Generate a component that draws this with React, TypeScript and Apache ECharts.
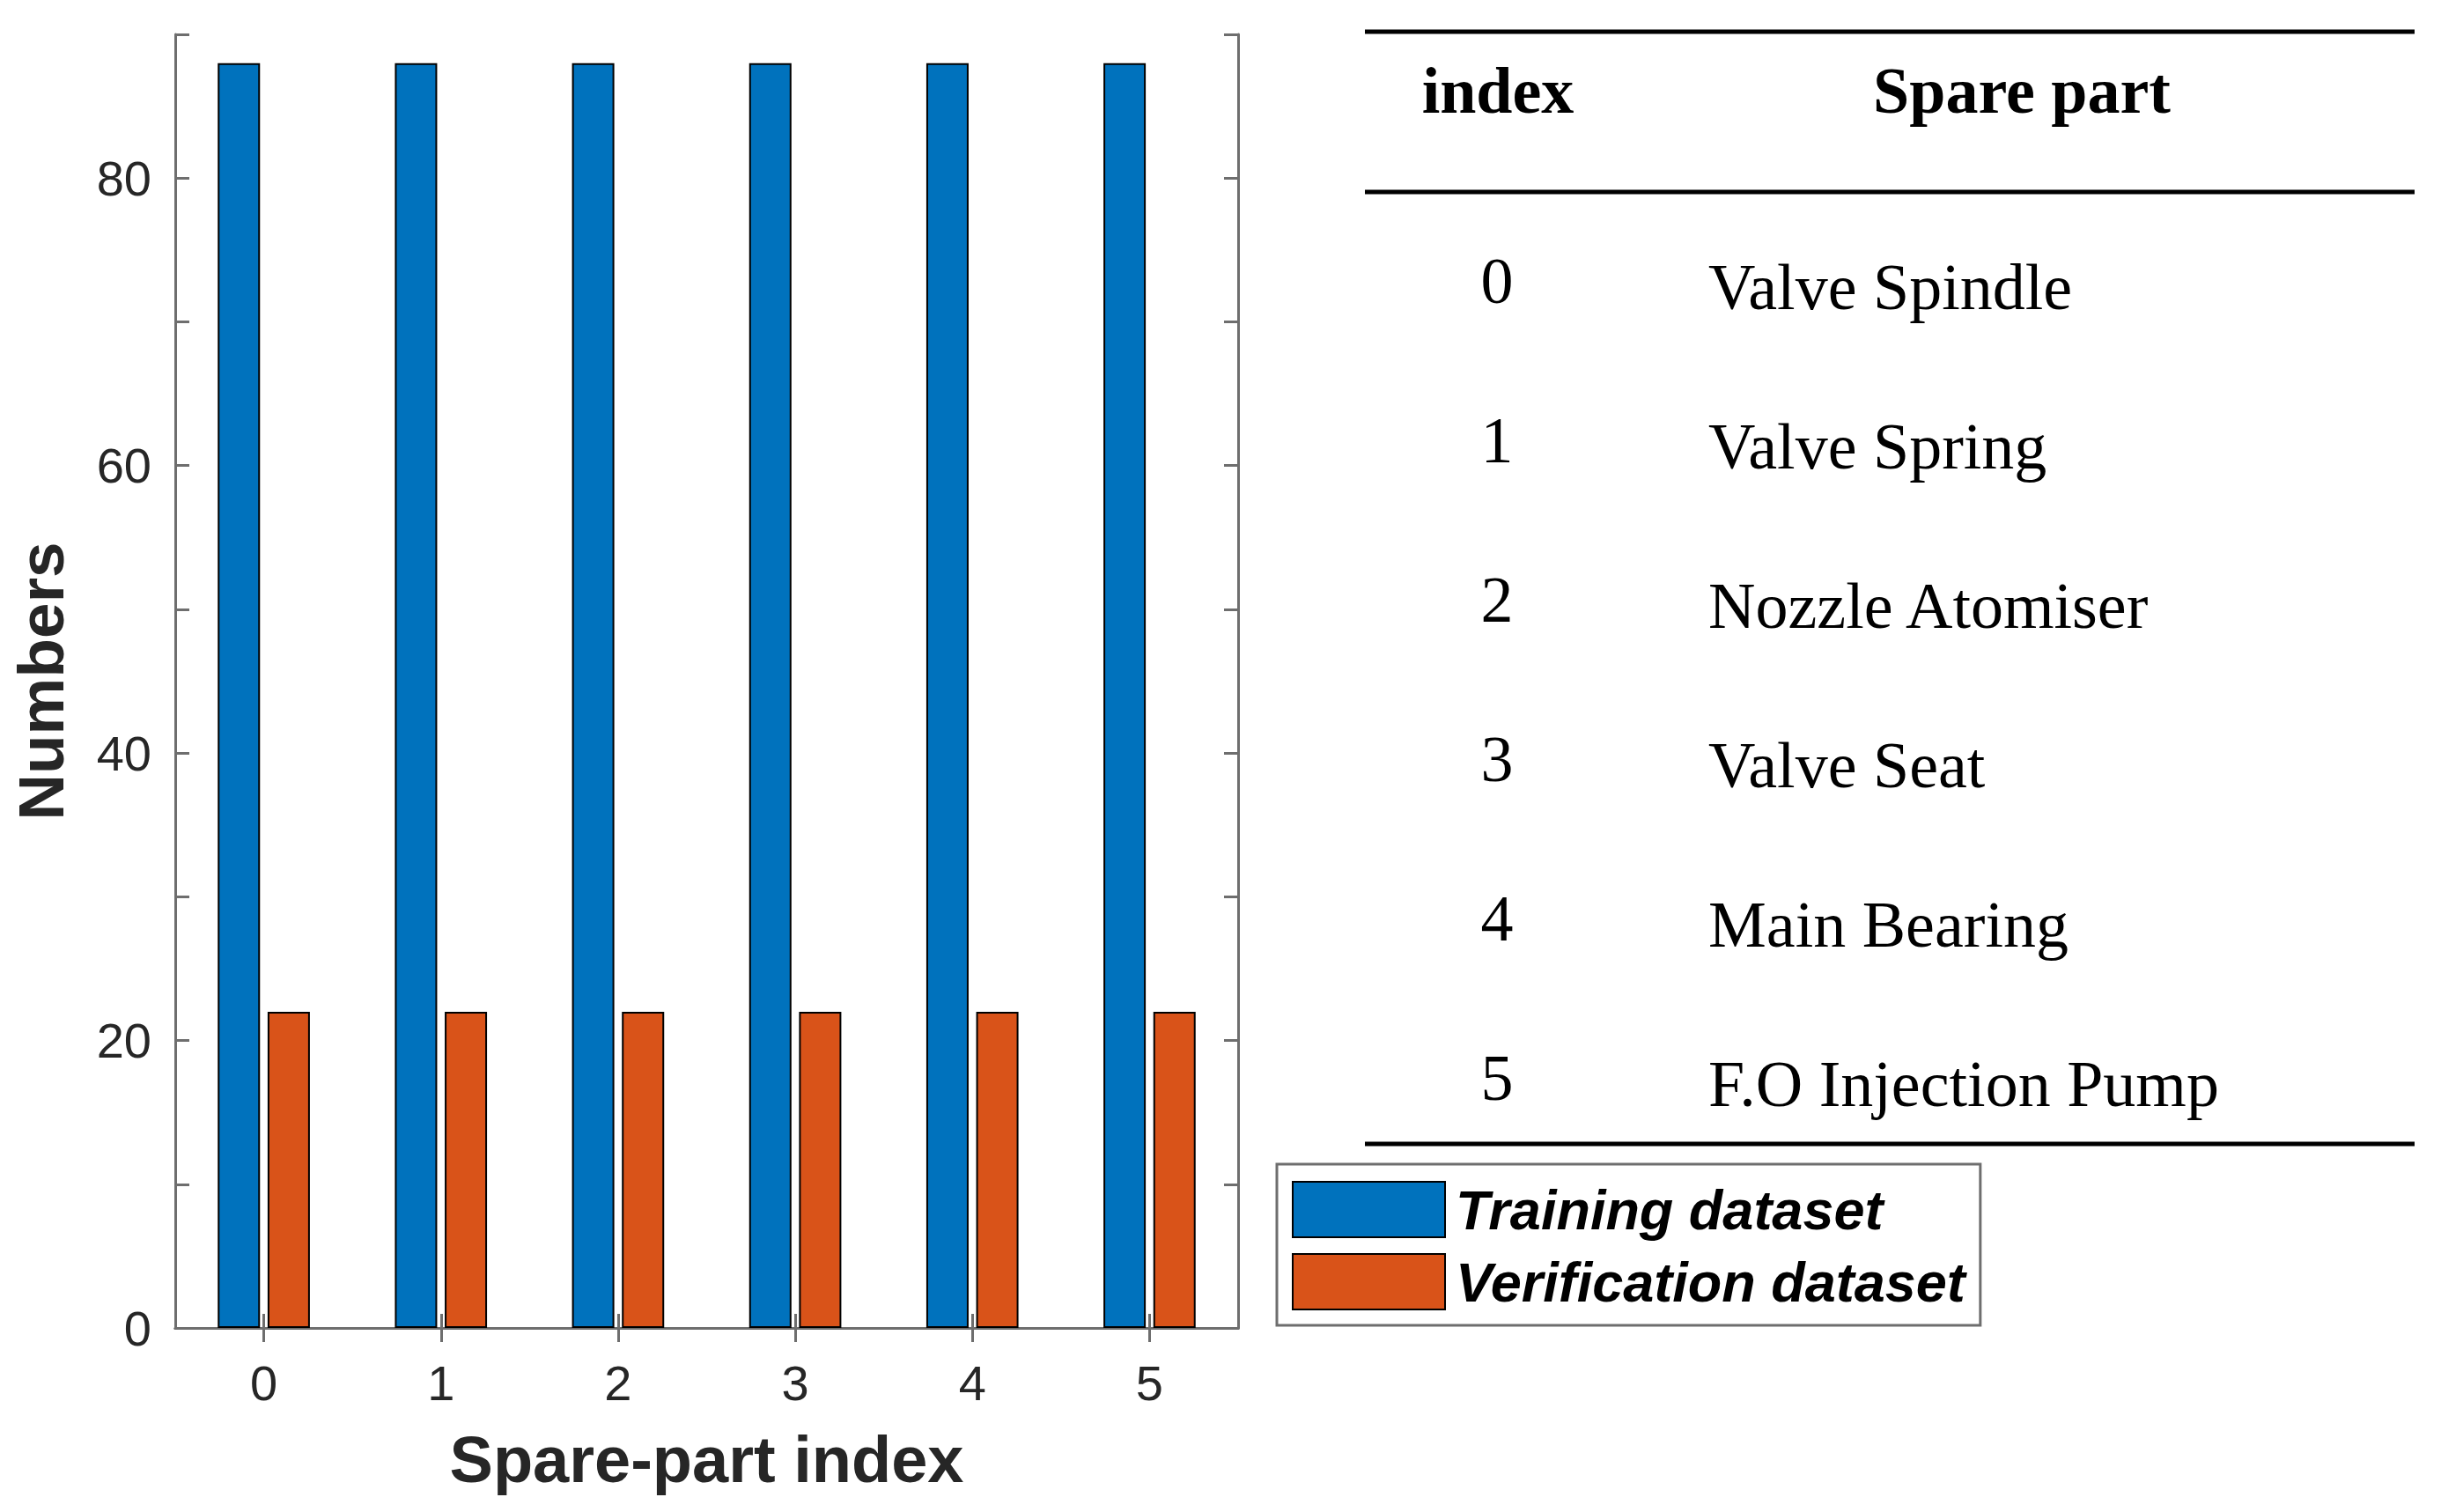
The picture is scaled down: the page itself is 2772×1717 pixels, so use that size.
import React, { useEffect, useRef } from "react";
import * as echarts from "echarts";

const categories = ["0", "1", "2", "3", "4", "5"];
const trainingValues = [88, 88, 88, 88, 88, 88];
const verificationValues = [22, 22, 22, 22, 22, 22];
const seriesNames = ["Training dataset", "Verification dataset"];
const tableHeaders = ["index", "Spare part"];
const tableIndex = ["0", "1", "2", "3", "4", "5"];
const spareParts = [
  "Valve Spindle",
  "Valve Spring",
  "Nozzle Atomiser",
  "Valve Seat",
  "Main Bearing",
  "F.O Injection Pump",
];

const SANS = "Liberation Sans, Arial, Helvetica, sans-serif";
const SERIF = "Liberation Serif, Times New Roman, serif";
const AXIS_COLOR = "#6e6e6e";
const TEXT_COLOR = "#262626";

export default function App() {
  const ref = useRef<HTMLDivElement>(null);

  useEffect(() => {
    if (!ref.current) return;
    const chart = echarts.init(ref.current, null, { renderer: "svg" });

    const axisLine = { show: true, lineStyle: { color: AXIS_COLOR, width: 3 } };
    const axisTick = {
      show: true,
      inside: true,
      length: 16,
      lineStyle: { color: AXIS_COLOR, width: 3 },
    };

    const graphic: any[] = [];
    const lineX1 = 1550;
    const lineX2 = 2742;
    [36, 218, 1299].forEach((y) => {
      graphic.push({
        type: "line",
        shape: { x1: lineX1, y1: y, x2: lineX2, y2: y },
        style: { stroke: "#000", lineWidth: 5 },
      });
    });
    const headerX = [1701, 2296];
    tableHeaders.forEach((h, i) => {
      graphic.push({
        type: "text",
        x: headerX[i],
        y: 103,
        style: {
          text: h,
          fontFamily: SERIF,
          fontSize: 74,
          fontWeight: "bold",
          fill: "#000",
          align: "center",
          verticalAlign: "middle",
        },
      });
    });
    tableIndex.forEach((idx, i) => {
      const y = 319 + i * 181;
      graphic.push({
        type: "text",
        x: 1700,
        y,
        style: {
          text: idx,
          fontFamily: SERIF,
          fontSize: 74,
          fill: "#000",
          align: "center",
          verticalAlign: "middle",
        },
      });
      graphic.push({
        type: "text",
        x: 1940,
        y: y + 7,
        style: {
          text: spareParts[i],
          fontFamily: SERIF,
          fontSize: 74,
          fill: "#000",
          align: "left",
          verticalAlign: "middle",
        },
      });
    });

    const option: any = {
      animation: false,
      backgroundColor: "#ffffff",
      grid: { left: 199, right: 1366, top: 39, bottom: 209, containLabel: false },
      legend: {
        data: seriesNames,
        orient: "vertical",
        left: 1450,
        top: 1322,
        itemWidth: 173,
        itemHeight: 63,
        itemGap: 17,
        padding: [19, 17, 17, 17],
        borderColor: AXIS_COLOR,
        borderWidth: 3,
        backgroundColor: "#ffffff",
        icon: "rect",
        selectedMode: false,
        itemStyle: { borderColor: "#000", borderWidth: 2 },
        textStyle: {
          fontFamily: SANS,
          fontSize: 63,
          fontWeight: "bold",
          fontStyle: "italic",
          color: "#000",
          padding: [0, 0, 0, 7],
        },
      },
      xAxis: [
        {
          type: "category",
          data: categories,
          position: "bottom",
          boundaryGap: true,
          axisLine,
          axisTick: { ...axisTick, alignWithLabel: true },
          axisLabel: { fontFamily: SANS, fontSize: 56, color: TEXT_COLOR, margin: 34 },
          splitLine: { show: false },
          name: "Spare-part index",
          nameLocation: "middle",
          nameGap: 112,
          nameTextStyle: {
            fontFamily: SANS,
            fontSize: 74,
            fontWeight: "bold",
            color: TEXT_COLOR,
          },
        },
        {
          type: "category",
          data: categories,
          position: "top",
          boundaryGap: true,
          axisLine,
          axisTick: { ...axisTick, alignWithLabel: true },
          axisLabel: { show: false },
          splitLine: { show: false },
        },
      ],
      yAxis: [
        {
          type: "value",
          min: 0,
          max: 90,
          interval: 10,
          position: "left",
          axisLine,
          axisTick,
          splitLine: { show: false },
          axisLabel: {
            fontFamily: SANS,
            fontSize: 56,
            color: TEXT_COLOR,
            margin: 27,
            formatter: (v: number) => (v % 20 === 0 ? String(v) : ""),
          },
          name: "Numbers",
          nameLocation: "middle",
          nameRotate: 90,
          nameGap: 116,
          nameTextStyle: {
            fontFamily: SANS,
            fontSize: 73,
            fontWeight: "bold",
            color: TEXT_COLOR,
          },
        },
        {
          type: "value",
          min: 0,
          max: 90,
          interval: 10,
          position: "right",
          axisLine,
          axisTick,
          splitLine: { show: false },
          axisLabel: { show: false },
        },
      ],
      series: [
        {
          name: seriesNames[0],
          type: "bar",
          data: trainingValues,
          barWidth: 48,
          barGap: "18%",
          itemStyle: { color: "#0072BD", borderColor: "#000", borderWidth: 2 },
        },
        {
          name: seriesNames[1],
          type: "bar",
          data: verificationValues,
          barWidth: 48,
          barGap: "18%",
          itemStyle: { color: "#D95319", borderColor: "#000", borderWidth: 2 },
        },
      ],
      graphic,
    };

    chart.setOption(option);
    return () => chart.dispose();
  }, []);

  return (
    <div
      ref={ref}
      style={{ position: "fixed", left: 0, top: 0, width: 2772, height: 1717, background: "#fff" }}
    />
  );
}
